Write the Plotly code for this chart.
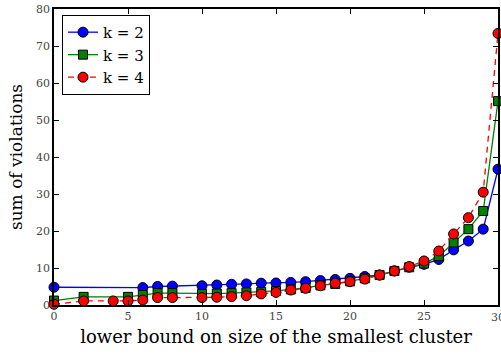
import plotly.graph_objects as go

# Sum of violations vs. lower bound on smallest cluster size, for k = 2, 3, 4
x_k2 = [0, 6, 7, 8, 10, 11, 12, 13, 14, 15, 16, 17, 18, 19, 20, 21, 22, 23, 24, 25, 26, 27, 28, 29, 30]
y_k2 = [4.8, 4.7, 5.0, 5.1, 5.2, 5.4, 5.6, 5.7, 5.9, 5.95, 6.1, 6.3, 6.6, 6.9, 7.2, 7.7, 8.1, 9.2, 10.2, 11.0, 12.3, 14.9, 17.3, 20.5, 36.7]

x_k3 = [0, 2, 5, 6, 7, 8, 10, 11, 12, 13, 14, 15, 16, 17, 18, 19, 20, 21, 22, 23, 24, 25, 26, 27, 28, 29, 30]
y_k3 = [1.2, 2.2, 2.2, 2.7, 3.2, 3.2, 3.0, 3.1, 3.2, 3.4, 3.5, 3.8, 4.2, 4.6, 5.3, 5.7, 6.4, 7.2, 8.1, 9.2, 10.2, 11.2, 13.2, 16.9, 20.5, 25.4, 55.1]

x_k4 = [0, 2, 4, 5, 6, 7, 8, 10, 11, 12, 13, 14, 15, 16, 17, 18, 19, 20, 21, 22, 23, 24, 25, 26, 27, 28, 29, 30]
y_k4 = [0.2, 1.1, 1.1, 1.1, 1.35, 2.0, 2.0, 2.0, 2.1, 2.25, 2.5, 3.0, 3.4, 4.05, 4.5, 5.2, 5.9, 6.3, 7.0, 8.1, 9.2, 10.4, 11.9, 14.6, 19.2, 23.6, 30.5, 73.4]

x_ticks = [0, 5, 10, 15, 20, 25, 30]
y_ticks = [0, 10, 20, 30, 40, 50, 60, 70, 80]

SERIF = "DejaVu Serif"
TICK_FONT = dict(family=SERIF, size=11, color="#444444")
W, H = 501, 355
ML, MR, MT, MB = 54, 1, 9, 50

fig = go.Figure()

fig.add_trace(go.Scatter(
    x=x_k2, y=y_k2, name="k = 2", mode="lines+markers",
    line=dict(color="#0000ff", width=1.3),
    marker=dict(symbol="circle", size=10, color="#0000ff", line=dict(color="black", width=1)),
    cliponaxis=False,
))
fig.add_trace(go.Scatter(
    x=x_k3, y=y_k3, name="k = 3", mode="lines+markers",
    line=dict(color="#008000", width=1.3),
    marker=dict(symbol="square", size=9, color="#008000", line=dict(color="black", width=1)),
    cliponaxis=False,
))
fig.add_trace(go.Scatter(
    x=x_k4, y=y_k4, name="k = 4", mode="lines+markers",
    line=dict(color="#ff0000", width=1.3, dash="6px,5px"),
    marker=dict(symbol="circle", size=10, color="#ff0000", line=dict(color="black", width=1)),
    cliponaxis=False,
))

axis_common = dict(
    showgrid=False, zeroline=False,
    showline=True, linecolor="black", linewidth=1.5,
    mirror="ticks", ticks="inside", ticklen=5, tickwidth=1, tickcolor="black",
    tickfont=TICK_FONT,
)

fig.update_xaxes(
    range=[0, 30], tickvals=x_ticks,
    title=dict(text="lower bound on size of the smallest cluster",
               font=dict(family=SERIF, size=18, color="black"), standoff=8),
    **axis_common,
)
fig.update_yaxes(
    range=[0, 80], tickvals=y_ticks,
    title=dict(text="sum of violations",
               font=dict(family=SERIF, size=17, color="black"), standoff=9),
    **axis_common,
)

# label of the last x tick, at the right edge of the frame
fig.add_annotation(
    x=1, xref="paper", y=0, yref="paper", yshift=-4,
    text=str(x_ticks[-1]), showarrow=False, xanchor="center", yanchor="top",
    font=TICK_FONT,
)

fig.update_layout(
    width=W, height=H,
    margin=dict(l=ML, r=MR, t=MT, b=MB),
    paper_bgcolor="white", plot_bgcolor="white",
    showlegend=True,
    legend=dict(
        x=0.018, y=0.98, xanchor="left", yanchor="top",
        bgcolor="white", bordercolor="black", borderwidth=1,
        font=dict(family=SERIF, size=15, color="black"),
        itemwidth=30,
    ),
)

fig.write_html("out.html")
